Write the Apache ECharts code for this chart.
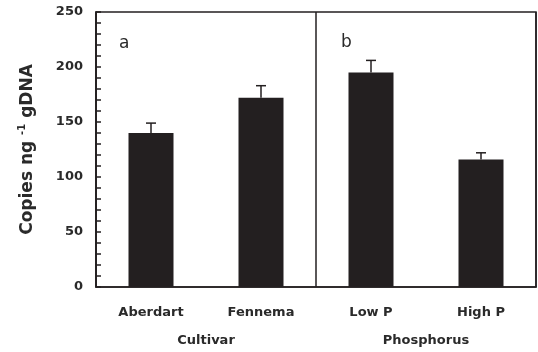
<!DOCTYPE html>
<html>
<head>
<meta charset="utf-8">
<script src="https://cdn.jsdelivr.net/npm/echarts@6/dist/echarts.min.js"></script>
<style>html,body{margin:0;padding:0;background:#fff}#c{width:538px;height:352px}</style>
</head>
<body>
<div id="c"></div>
<script>
const categories = ['Aberdart', 'Fennema', 'Low P', 'High P'];
const groups = ['Cultivar', 'Phosphorus'];
const values = [140, 172, 195, 116];
const errors = [9, 11, 11, 6];
const yTicks = [0, 50, 100, 150, 200, 250];
const panelLabels = ['a', 'b'];

const ink = '#231f20';
const txt = '#2a2a2a';
const font = 'DejaVu Sans';

const chart = echarts.init(document.getElementById('c'));
chart.setOption({
  animation: false,
  backgroundColor: '#fff',
  grid: { left: 96, right: 2, top: 12, bottom: 65, show: true, borderColor: ink, borderWidth: 1.5, backgroundColor: 'transparent' },
  xAxis: [
    {
      type: 'category', data: categories,
      axisLine: { lineStyle: { color: ink, width: 1.5 } },
      axisTick: { inside: true, length: 5, lineStyle: { color: ink, width: 1.5 } },
      axisLabel: { margin: 19, color: txt, fontFamily: font, fontWeight: 'bold', fontSize: 13 }
    },
    {
      type: 'category', data: groups, position: 'bottom',
      axisLine: { show: false }, axisTick: { show: false },
      axisLabel: { margin: 47, color: txt, fontFamily: font, fontWeight: 'bold', fontSize: 13 },
      splitLine: { show: true, interval: 0, lineStyle: { color: ink, width: 1.5 } }
    }
  ],
  yAxis: {
    type: 'value', min: yTicks[0], max: yTicks[yTicks.length - 1], interval: 50,
    name: 'Copies ng {sup|-1} gDNA', nameLocation: 'middle', nameGap: 57, nameRotate: 90,
    nameTextStyle: {
      color: txt, fontFamily: font, fontWeight: 'bold', fontSize: 17, lineHeight: 22,
      rich: { sup: { fontFamily: font, fontWeight: 'bold', fontSize: 10, verticalAlign: 'top', lineHeight: 22, color: txt } }
    },
    splitLine: { show: false },
    axisLine: { show: true, lineStyle: { color: ink, width: 1.5 } },
    axisTick: { show: true, inside: true, length: 5, lineStyle: { color: ink, width: 1.5 } },
    minorTick: { show: true, splitNumber: 5, length: 5, lineStyle: { color: ink, width: 1.5 } },
    axisLabel: { margin: 13, color: txt, fontFamily: font, fontWeight: 'bold', fontSize: 13 }
  },
  series: [
    {
      type: 'bar', data: values, barWidth: 45, xAxisIndex: 0,
      itemStyle: { color: ink }, z: 2
    },
    {
      type: 'custom', xAxisIndex: 0, z: 3,
      data: values.map((v, i) => [i, v, errors[i]]),
      renderItem: function (params, api) {
        const base = api.coord([api.value(0), api.value(1)]);
        const top = api.coord([api.value(0), api.value(1) + api.value(2)]);
        const hw = 5;
        return {
          type: 'group',
          children: [
            { type: 'line', shape: { x1: base[0], y1: base[1], x2: top[0], y2: top[1] }, style: { stroke: ink, lineWidth: 1.5 } },
            { type: 'line', shape: { x1: top[0] - hw, y1: top[1], x2: top[0] + hw, y2: top[1] }, style: { stroke: ink, lineWidth: 1.5 } }
          ]
        };
      }
    }
  ],
  graphic: [
    { type: 'text', left: 119, top: 35, style: { text: panelLabels[0], fontFamily: font, fontSize: 17, fill: txt } },
    { type: 'text', left: 341, top: 34, style: { text: panelLabels[1], fontFamily: font, fontSize: 17, fill: txt } }
  ]
});
</script>
</body>
</html>
